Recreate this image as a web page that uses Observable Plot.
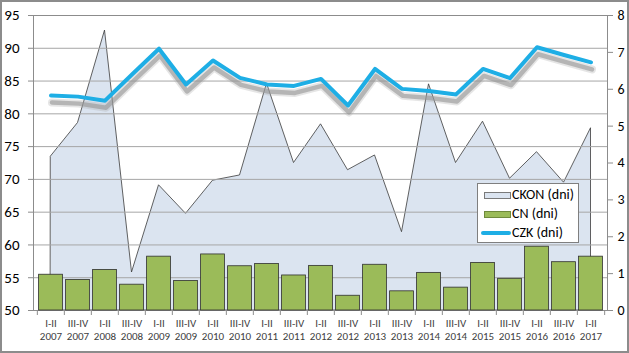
<!DOCTYPE html>
<html><head><meta charset="utf-8">
<script src="https://cdn.jsdelivr.net/npm/d3@7"></script>
<script src="https://cdn.jsdelivr.net/npm/@observablehq/plot@0.6"></script>
<style>
body{margin:0;background:#fff;}
#wrap{position:relative;width:629px;height:353px;font-family:Carlito,Calibri,Lato,sans-serif;overflow:hidden;}
#wrap svg{position:absolute;left:0;top:0;}
#border{position:absolute;left:0;top:0;width:629px;height:353px;box-sizing:border-box;border:2px solid #8c8c8c;pointer-events:none;}
#legend{position:absolute;left:477px;top:183px;width:102px;height:60px;box-sizing:border-box;border:1px solid #7f7f7f;background:#fff;font-size:14px;color:#000;}
.row{position:absolute;left:0;width:100px;height:18px;line-height:18px;}
.row span{position:absolute;left:34px;top:0;white-space:nowrap;}
.sw{position:absolute;}
</style>
</head><body>
<div id="wrap">
  <div id="legend">
    <div class="row" style="top:2px"><div class="sw" style="left:6px;top:6px;width:25px;height:5px;background:#dbe4f0;border:1px solid #7a7a7a"></div><span>CKON (dni)</span></div>
    <div class="row" style="top:21px"><div class="sw" style="left:6px;top:6px;width:25px;height:5px;background:#9bbb59;border:1px solid #6f8a3c"></div><span>CN (dni)</span></div>
    <div class="row" style="top:40px"><div class="sw" style="left:3px;top:7px;width:30px;height:4px;background:#1eaee5;border-radius:2px"></div><span>CZK (dni)</span></div>
  </div>
  <div id="border"></div>
</div>
<script>
const periods = ["I-II","III-IV","I-II","III-IV","I-II","III-IV","I-II","III-IV","I-II","III-IV","I-II","III-IV","I-II","III-IV","I-II","III-IV","I-II","III-IV","I-II","III-IV","I-II"];
const years = ["2007","2007","2008","2008","2009","2009","2010","2010","2011","2011","2012","2012","2013","2013","2014","2014","2015","2015","2016","2016","2017"];
const ckon = [73.5, 78.6, 92.7, 55.8, 69.1, 64.75, 69.8, 70.6, 84.6, 72.5, 78.4, 71.4, 73.65, 61.95, 84.5, 72.5, 78.8, 70.1, 74.15, 69.5, 77.8];
const cn = [0.97, 0.83, 1.10, 0.70, 1.46, 0.80, 1.52, 1.20, 1.26, 0.95, 1.21, 0.40, 1.24, 0.52, 1.02, 0.62, 1.29, 0.86, 1.73, 1.31, 1.46];
const czk = [5.83, 5.80, 5.69, 6.40, 7.10, 6.13, 6.78, 6.31, 6.13, 6.09, 6.28, 5.56, 6.55, 6.01, 5.95, 5.86, 6.55, 6.30, 7.14, 6.93, 6.73];
const leftTicks = [50, 55, 60, 65, 70, 75, 80, 85, 90, 95];
const rightTicks = [0, 1, 2, 3, 4, 5, 6, 7, 8];

const leftDomain = [50, 95], rightDomain = [0, 8];
const toR = v => (v - leftDomain[0]) * (rightDomain[1] - rightDomain[0]) / (leftDomain[1] - leftDomain[0]) + rightDomain[0];
const fromR = v => Math.round(leftDomain[0] + (v - rightDomain[0]) * (leftDomain[1] - leftDomain[0]) / (rightDomain[1] - rightDomain[0]));

const keys = periods.map((p, i) => p + " " + years[i]);
const data = keys.map((k, i) => ({k, period: periods[i], year: years[i], ckon: toR(ckon[i]), cn: cn[i], czk: czk[i]}));

const W = 629, H = 353, mL = 33, mR = 22, mT = 15, mB = 43;
const bw = (W - mL - mR) / keys.length;
const font = "Carlito, Calibri, Lato, sans-serif";

const plot = Plot.plot({
  width: W, height: H, marginLeft: mL, marginRight: mR, marginTop: mT, marginBottom: mB,
  style: {fontFamily: font, fontSize: "14px", color: "#000", background: "transparent"},
  x: {type: "band", domain: keys, padding: 0, axis: null},
  y: {domain: rightDomain, axis: null},
  marks: [
    Plot.areaY(data, {x: "k", y1: 0, y2: "ckon", fill: "#dbe4f0", stroke: "#3a3a3a", strokeWidth: 0.8}),
    Plot.ruleY(leftTicks.slice(1).map(toR), {stroke: "#a6a6a6", strokeWidth: 1}),
    Plot.frame({stroke: "#8c8c8c"}),
    // drop shadow of the CZK line
    Plot.lineY(data, {x: "k", y: "czk", dy: 7, dx: 1, stroke: "#a8a8a8", strokeWidth: 8, strokeOpacity: 0.3, strokeLinejoin: "round", strokeLinecap: "round"}),
    Plot.lineY(data, {x: "k", y: "czk", dy: 7, dx: 1, stroke: "#959595", strokeWidth: 4.5, strokeOpacity: 0.6, strokeLinejoin: "round", strokeLinecap: "round"}),
    Plot.barY(data, {x: "k", y: "cn", fill: "#9bbb59", stroke: "#2f2f2f", strokeWidth: 0.8, insetLeft: 1.6, insetRight: 1.6}),
    Plot.lineY(data, {x: "k", y: "czk", stroke: "#1eaee5", strokeWidth: 4, strokeLinejoin: "round"}),
    Plot.axisY(leftTicks.map(toR), {anchor: "left", tickSize: 5, tickPadding: 9, tickFormat: fromR, fontSize: 15, stroke: "#8c8c8c", fill: "#000", label: null}),
    Plot.axisY(rightTicks, {anchor: "right", tickSize: 5, tickPadding: 5, fontSize: 14, stroke: "#8c8c8c", fill: "#000", label: null}),
    Plot.axisX(keys, {anchor: "bottom", tickSize: 5, dx: -bw / 2, tickFormat: () => "", stroke: "#8c8c8c", label: null}),
    Plot.axisX([keys[keys.length - 1]], {anchor: "bottom", tickSize: 5, dx: bw / 2, tickFormat: () => "", stroke: "#8c8c8c", label: null}),
    Plot.text(data, {x: "k", text: d => d.period + "\n" + d.year, frameAnchor: "bottom", lineAnchor: "top", dy: 7, fontSize: 11, fill: "#404040", lineHeight: 1.18})
  ]
});
const wrap = document.getElementById("wrap");
wrap.insertBefore(plot, wrap.firstChild);
</script>
</body></html>
